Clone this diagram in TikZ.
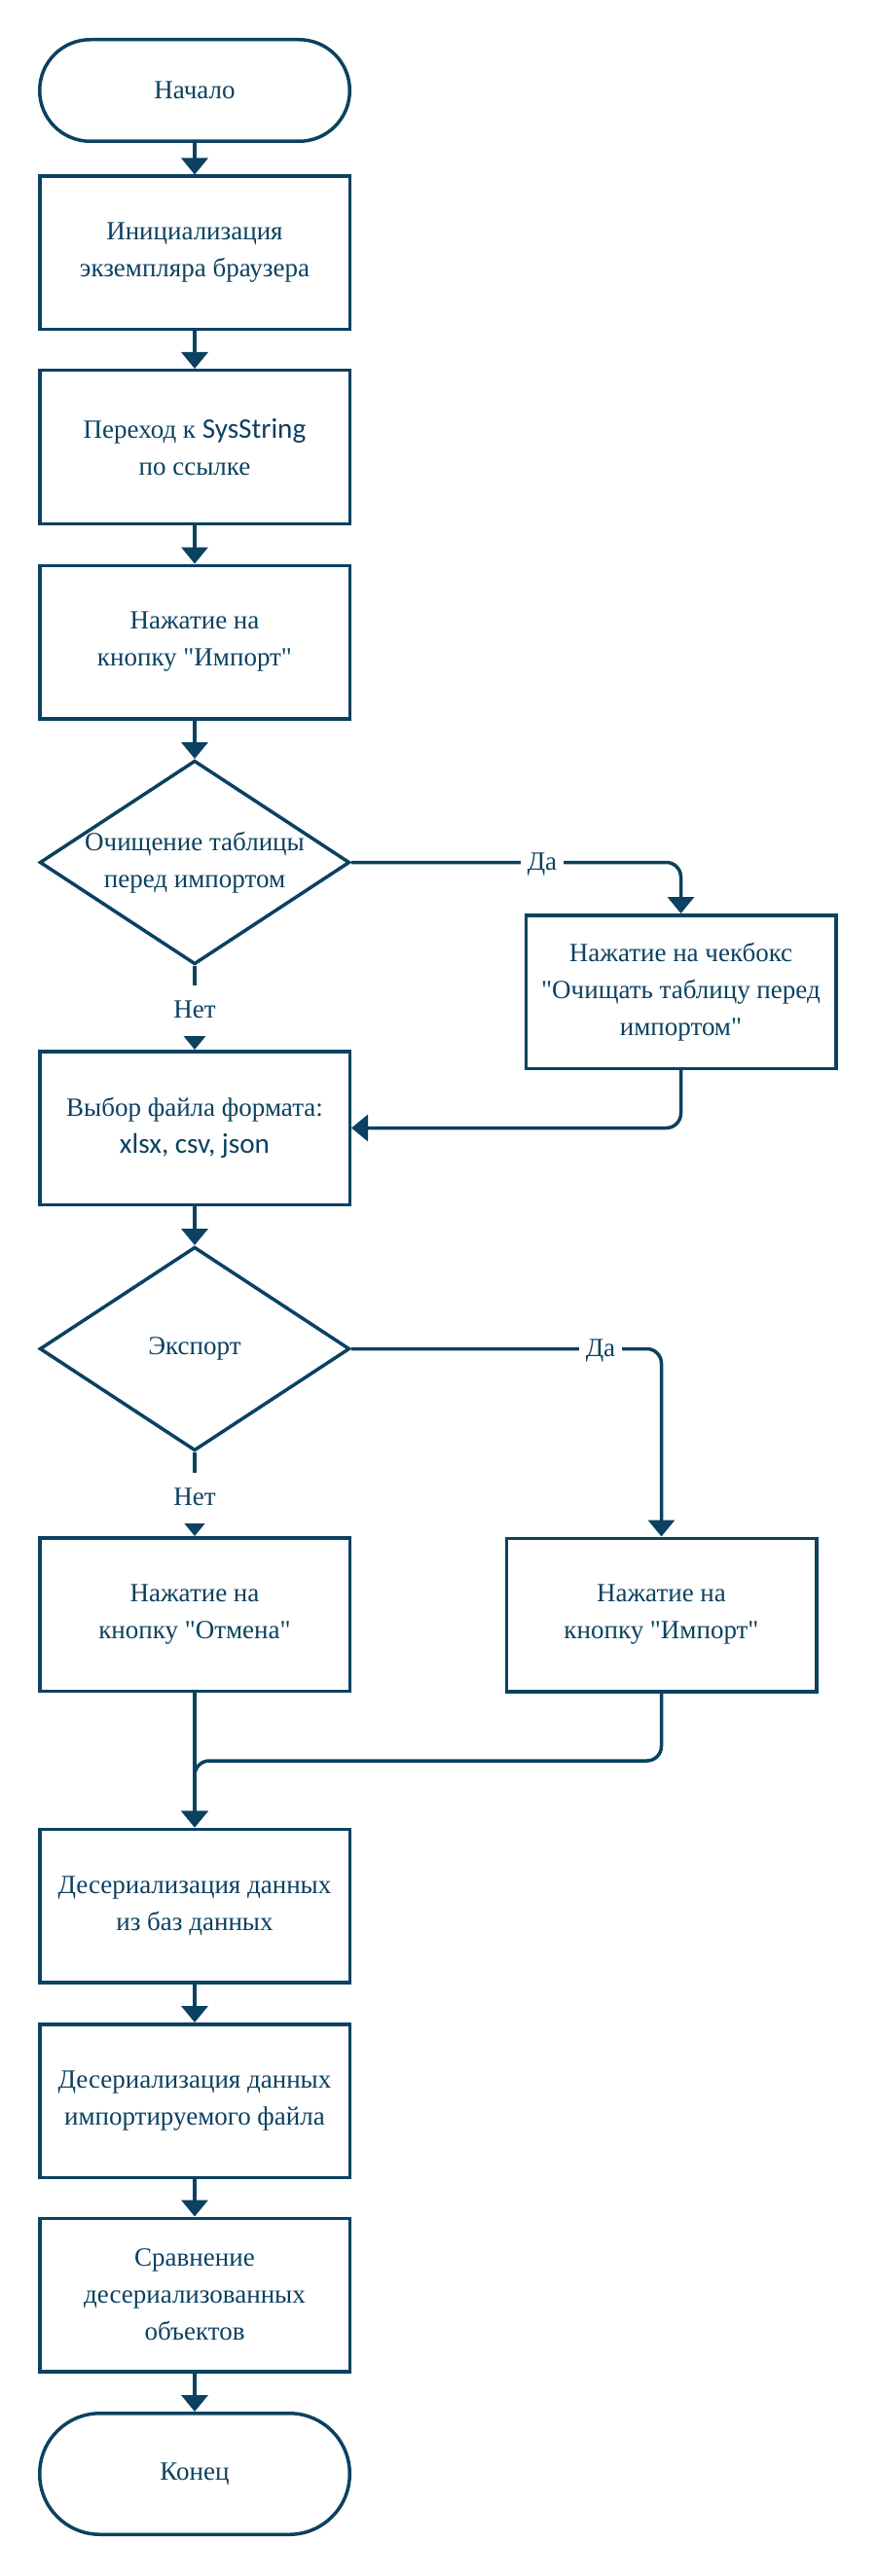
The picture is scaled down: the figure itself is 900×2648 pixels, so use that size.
\documentclass[tikz,border=0pt]{standalone}
\usepackage{fontspec}
\setmainfont{Liberation Serif}
\newfontfamily\serifru{Liberation Serif}
\newfontfamily\calfont[Scale=1.08]{Carlito}
\newcommand\dq{\XeTeXglyph\XeTeXcharglyph"22\relax}
\usetikzlibrary{shapes.geometric,arrows.meta}
\definecolor{ink}{RGB}{11,65,97}
\begin{document}
\begin{tikzpicture}[x=0.5pt,y=-0.5pt,
  every node/.style={text=ink, font=\serifru\fontsize{13.5}{19}\selectfont},
  base/.style={draw=ink, line width=1.75pt, align=center, inner sep=0pt},
  proc/.style={base, rectangle, minimum width=159.25pt, minimum height=78.75pt},
  term/.style={base, rectangle, minimum width=159.25pt},
  dec/.style={base, diamond, minimum width=159.25pt, minimum height=104.75pt, aspect=1.5},
  lbl/.style={fill=white, inner xsep=3.5pt, inner ysep=6.5pt, text height=10pt, text depth=3pt},
  arr/.style={draw=ink, line width=1.75pt, -{Triangle[length=8.5pt,width=13.5pt]}, rounded corners=7.5pt},
]
\fill[white] (0,0) rectangle (900,2648);

\node[term, minimum height=52.25pt, rounded corners=26pt] (start) at (200,93) {Начало};
\node[proc] (b1) at (200,260) {Инициализация\\экземпляра браузера};
\node[proc] (b2) at (200,459.5) {Переход к {\calfont SysString}\\по ссылке};
\node[proc] (b3) at (200,660) {Нажатие на\\кнопку \dq Импорт\dq};
\node[dec, label={[align=center]center:Очищение таблицы\\перед импортом}] (d1) at (200,886.5) {};
\node[proc] (cb) at (699.5,1019.5) {Нажатие на чекбокс\\\dq Очищать таблицу перед\\импортом\dq};
\node[proc] (vyb) at (200,1159.5) {Выбор файла формата:\\{\calfont xlsx, csv, json}};
\node[dec, label={[align=center]center:Экспорт}] (d2) at (200,1386.5) {};
\node[proc] (otm) at (200,1659.5) {Нажатие на\\кнопку \dq Отмена\dq};
\node[proc] (imp2) at (679.5,1660) {Нажатие на\\кнопку \dq Импорт\dq};
\node[proc] (des1) at (200,1959) {Десериализация данных\\из баз данных};
\node[proc] (des2) at (200,2159.5) {Десериализация данных\\импортируемого файла};
\node[proc] (cmp) at (200,2359) {Сравнение\\десериализованных\\объектов};
\node[term, minimum height=62.25pt, rounded corners=31pt] (end) at (200,2543) {Конец};

\draw[arr] (start.south) -- (b1.north);
\draw[arr] (b1.south) -- (b2.north);
\draw[arr] (b2.south) -- (b3.north);
\draw[arr] (b3.south) -- (d1.north);
\draw[arr] (d1.east) -| (cb.north);
\node[lbl] (l1) at (557,887) {Да};
\draw[arr] (d1.south) -- (vyb.north);
\node[lbl] (l2) at (200,1039) {Нет};
\draw[arr] (cb.south) |- (vyb.east);
\draw[arr] (vyb.south) -- (d2.north);
\draw[arr] (d2.east) -| (imp2.north);
\node[lbl] (l3) at (617,1387) {Да};
\draw[arr] (d2.south) -- (otm.north);
\node[lbl] (l4) at (200,1540) {Нет};
\coordinate (m) at (200,1810);
\draw[arr] (otm.south) -- (des1.north);
\draw[arr] (imp2.south) |- (m) -- (des1.north);
\draw[arr] (des1.south) -- (des2.north);
\draw[arr] (des2.south) -- (cmp.north);
\draw[arr] (cmp.south) -- (end.north);
\end{tikzpicture}
\end{document}
